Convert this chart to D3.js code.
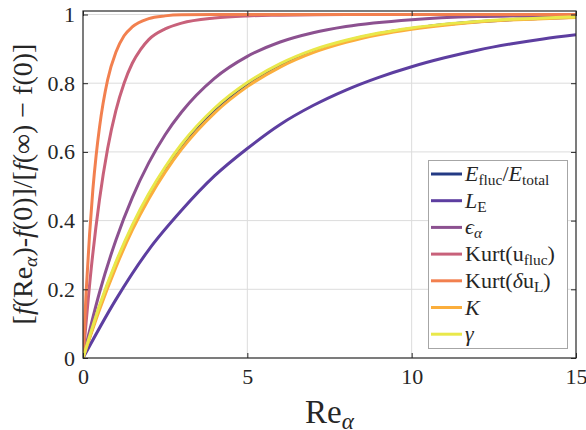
<!DOCTYPE html>
<html><head><meta charset="utf-8">
<script src="https://cdn.jsdelivr.net/npm/d3@7/dist/d3.min.js"></script>
<style>body{margin:0;background:#fff}svg{display:block}
svg text{font-family:"Liberation Serif","Times New Roman","DejaVu Serif",serif;}</style>
</head><body><svg id="c" width="586" height="430"></svg>
<script>
// ---- data ----
const seriesNames = ["Efluc","LE","eps","KurtU","KurtD","K","gamma"];
const colors = ["#233a84","#5d3ea0","#8c5190","#c8617a","#f2804f","#fbae3c","#e9e84a"];

const xSlow = [0,0.5,1,1.5,2,2.5,3,4,5,6,7,8,9,10,11,12,13,14,15];
const yEfluc = [0,0.148,0.274,0.382,0.473,0.551,0.618,0.722,0.798,0.854,0.894,0.923,0.944,0.959,0.971,0.979,0.985,0.989,0.992];
const yK     = [0,0.140,0.264,0.372,0.463,0.541,0.608,0.713,0.790,0.847,0.889,0.919,0.941,0.957,0.969,0.978,0.984,0.988,0.991];
const yGamma = [0,0.152,0.279,0.387,0.478,0.556,0.623,0.727,0.802,0.857,0.897,0.925,0.946,0.961,0.972,0.980,0.986,0.990,0.993];

const xLE = [0,1,2,3,4,5,6,7,8,9,10,11,12,13,14,15];
const yLE = [0,0.17,0.315,0.43,0.53,0.61,0.68,0.735,0.78,0.817,0.848,0.874,0.896,0.914,0.929,0.941];

const xEps = [0,0.5,1,1.5,2,2.5,3,4,5,6,7,8,10,12,15];
const yEps = [0,0.19,0.343,0.467,0.568,0.65,0.716,0.814,0.878,0.92,0.947,0.965,0.985,0.994,0.998];

const xKurtU = [0,0.25,0.5,0.75,1,1.25,1.5,1.75,2,2.5,3,4,5,6,8,15];
const yKurtU = [0,0.26,0.46,0.61,0.72,0.80,0.858,0.898,0.927,0.958,0.975,0.99,0.996,0.998,1.0,1.0];

const xKurtD = [0,0.1,0.2,0.3,0.4,0.5,0.75,1,1.25,1.5,2,2.5,3,4,15];
const yKurtD = [0,0.2,0.36,0.49,0.59,0.67,0.81,0.89,0.938,0.964,0.988,0.996,0.999,1.0,1.0];

const xTicks = [0,5,10,15];
const yTicks = [0,0.2,0.4,0.6,0.8,1];
const yTickLabels = ["0","0.2","0.4","0.6","0.8","1"];

// ---- layout ----
const svg = d3.select("#c");
const L = 83, R = 576, T = 11, B = 358;
const x = d3.scaleLinear().domain([0,15]).range([L,R]);
const y = d3.scaleLinear().domain([0,1.0102]).range([B,T]);

// grid
svg.append("g").selectAll("line").data(xTicks.slice(1,-1)).join("line")
  .attr("x1",d=>x(d)).attr("x2",d=>x(d)).attr("y1",T).attr("y2",B)
  .attr("stroke","#dcdcdc").attr("stroke-width",1);
svg.append("g").selectAll("line").data(yTicks.slice(1)).join("line")
  .attr("y1",d=>y(d)).attr("y2",d=>y(d)).attr("x1",L).attr("x2",R)
  .attr("stroke","#dcdcdc").attr("stroke-width",1);

// lines
const xsets = [xSlow,xLE,xEps,xKurtU,xKurtD,xSlow,xSlow];
const ysets = [yEfluc,yLE,yEps,yKurtU,yKurtD,yK,yGamma];
const line = d3.line().x(d=>x(d[0])).y(d=>y(d[1])).curve(d3.curveMonotoneX);
const plot = svg.append("g");
plot.append("clipPath").attr("id","clp").append("rect").attr("x",L).attr("y",T-2).attr("width",R-L).attr("height",B-T+2);
seriesNames.forEach((n,i)=>{
  const pts = xsets[i].map((xv,j)=>[xv,ysets[i][j]]);
  plot.append("path").attr("d",line(pts)).attr("fill","none")
    .attr("stroke",colors[i]).attr("stroke-width",3).attr("clip-path","url(#clp)");
});

// axes (box with inward ticks)
const ax = svg.append("g");
const xAxB = d3.axisBottom(x).tickValues(xTicks).tickSizeInner(-5).tickSizeOuter(0).tickPadding(10).tickFormat(d3.format("d"));
const xAxT = d3.axisTop(x).tickValues(xTicks).tickSizeInner(-5).tickSizeOuter(0).tickFormat("");
const yAxL = d3.axisLeft(y).tickValues(yTicks).tickSizeInner(-5).tickSizeOuter(0).tickPadding(8).tickFormat((d,i)=>yTickLabels[i]);
const yAxR = d3.axisRight(y).tickValues(yTicks).tickSizeInner(-5).tickSizeOuter(0).tickFormat("");
const gB = ax.append("g").attr("transform",`translate(0,${B})`).call(xAxB);
const gT = ax.append("g").attr("transform",`translate(0,${T})`).call(xAxT);
const gL = ax.append("g").attr("transform",`translate(${L},0)`).call(yAxL);
const gR = ax.append("g").attr("transform",`translate(${R},0)`).call(yAxR);
[gB,gT,gL,gR].forEach(g=>{
  g.attr("font-family",null).attr("font-size",null);
  g.selectAll("path.domain").remove();
  g.selectAll("line").attr("stroke","#262626").attr("stroke-width",1);
  g.selectAll("text").style("font-size","22px").attr("fill","#262626");
});
gB.selectAll("text").attr("dy","0.71em");
svg.append("rect").attr("x",L).attr("y",T).attr("width",R-L).attr("height",B-T)
  .attr("fill","none").attr("stroke","#262626").attr("stroke-width",1.2);

// rich text helper
function rich(sel, segs, size){
  segs.forEach(s=>{
    const t = sel.append("tspan").text(s.t);
    if(s.i) t.attr("font-style","italic");
    if(s.sub){ t.style("font-size",(size*0.7)+"px").attr("baseline-shift","-25%"); }
  });
}

// legend
const legLabels = [
  [{t:"E",i:1},{t:"fluc",sub:1},{t:"/"},{t:"E",i:1},{t:"total",sub:1}],
  [{t:"L",i:1},{t:"E",sub:1}],
  [{t:"ϵ",i:1},{t:"α",i:1,sub:1}],
  [{t:"Kurt(u"},{t:"fluc",sub:1},{t:")"}],
  [{t:"Kurt("},{t:"δ",i:1},{t:"u"},{t:"L",sub:1},{t:")"}],
  [{t:"K",i:1}],
  [{t:"γ",i:1}]
];
const lg = svg.append("g");
lg.append("rect").attr("x",428.5).attr("y",160.5).attr("width",139).attr("height",188)
  .attr("fill","#fff").attr("stroke","#a6a6a6").attr("stroke-width",1);
const ly0 = 174, ldy = 26.7;
legLabels.forEach((segs,i)=>{
  const yy = ly0 + i*ldy;
  lg.append("line").attr("x1",431).attr("x2",462).attr("y1",yy).attr("y2",yy)
    .attr("stroke",colors[i]).attr("stroke-width",3);
  const t = lg.append("text").attr("x",465).attr("y",yy+7)
    .style("font-size","22px").attr("fill","#262626");
  rich(t,segs,22);
});

// axis titles
const xt = svg.append("text").attr("x",(L+R)/2).attr("y",423).attr("text-anchor","middle")
  .style("font-size","33px").attr("fill","#262626");
rich(xt,[{t:"Re"},{t:"α",i:1,sub:1}],33);

const yt = svg.append("text").attr("transform","translate(32,184) rotate(-90)")
  .attr("text-anchor","middle").style("font-size","28px").attr("fill","#262626");
rich(yt,[{t:"["},{t:"f",i:1},{t:"(Re"},{t:"α",i:1,sub:1},{t:")-"},{t:"f",i:1},{t:"(0)]/["},{t:"f",i:1},{t:"(∞) − f(0)]"}],28);
</script></body></html>
